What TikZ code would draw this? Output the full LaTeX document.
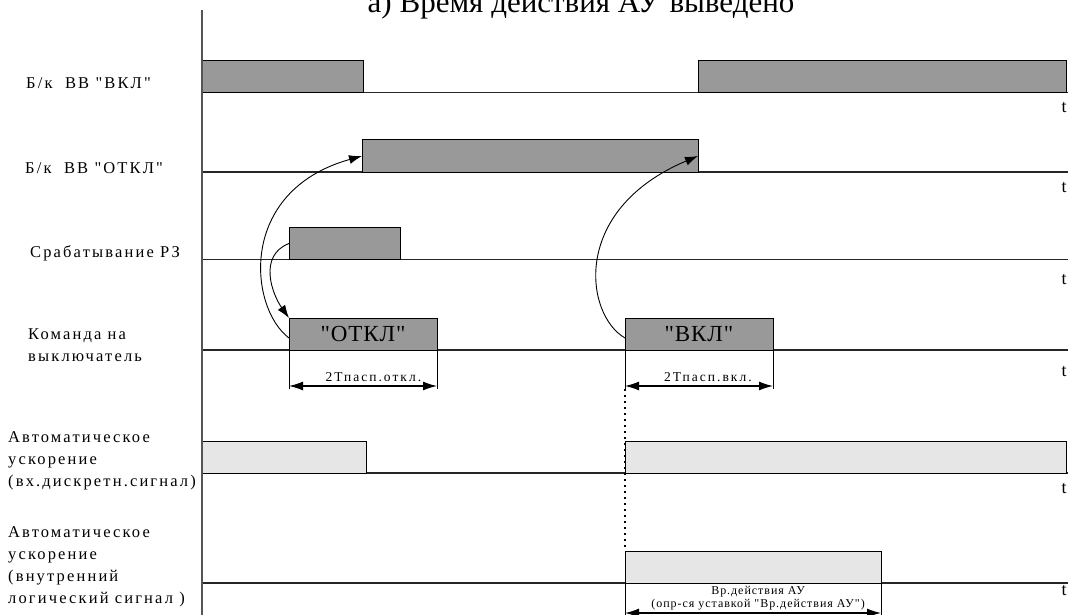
\documentclass[tikz,border=0pt]{standalone}
\usepackage{fontspec}
\setmainfont{Liberation Serif}
\newfontfamily\lblfont[LetterSpace=13]{Liberation Serif}
\newfontfamily\dimfont[LetterSpace=15]{Liberation Serif}
\newfontfamily\boxfont[LetterSpace=4]{Liberation Serif}
\newfontfamily\smallfont[LetterSpace=8]{Liberation Serif}
\usetikzlibrary{calc,arrows.meta}

\definecolor{pulsedark}{HTML}{999999}
\definecolor{pulselight}{HTML}{E6E6E6}
\definecolor{axisgray}{HTML}{555555}

\tikzset{
  darkpulse/.style={draw=black, line width=1pt, fill=pulsedark, inner sep=0pt,
    outer sep=0pt, minimum height=32pt, anchor=south west},
  lightpulse/.style={darkpulse, fill=pulselight},
  zeroline/.style={line width=1.2pt, black!85},
  axisline/.style={line width=2pt, axisgray},
  rowlabel/.style={font=\lblfont\fontsize{16.5}{22}\selectfont, align=left, inner sep=0pt},
  boxtext/.style={font=\boxfont\fontsize{23}{26}\selectfont},
  flow/.style={line width=0.9pt, -{Latex[length=13pt,width=9pt]}},
  tickline/.style={line width=0.9pt},
  dimarrow/.style={line width=1.3pt, {Latex[length=14pt,width=9pt]}-{Latex[length=14pt,width=9pt]}},
  dimtext/.style={font=\dimfont\fontsize{13.5}{15}\selectfont, inner sep=0pt},
  dimsmall/.style={font=\smallfont\fontsize{12}{13.5}\selectfont, align=center, inner sep=0pt},
  dotline/.style={line width=1.5pt, dash pattern=on 1.5pt off 4.5pt},
}

\begin{document}
\begin{tikzpicture}[x=1pt, y=-1pt]
  \useasboundingbox (0,0) rectangle (1068,615);

  % title
  \node[font=\fontsize{31}{34}\selectfont, anchor=base] (title) at (581,13)
    {а)\hspace{8pt}Время действия АУ\hspace{10pt}выведено};

  % zero lines of the signals
  \foreach \y in {92.5,172,259.5,350,473,583} {
    \draw[zeroline] (202,\y) -- (1068,\y);
  }

  % row labels
  \node[rowlabel, anchor=west] (lblOn) at (26,83) {Б/к\ \ ВВ "ВКЛ"};
  \node[rowlabel, anchor=west] (lblOff) at (25,168) {Б/к\ \ ВВ "ОТКЛ"};
  \node[rowlabel, anchor=west] (lblRz) at (30,253) {Срабатывание РЗ};
  \node[rowlabel, anchor=north west] (lblCmd) at (28,328) {Команда на\\выключатель};
  \node[rowlabel, anchor=north west] (lblAuIn) at (8,431)
    {Автоматическое\\ускорение\\(вх.дискретн.сигнал)};
  \node[rowlabel, anchor=north west] (lblAuLog) at (8,526)
    {Автоматическое\\ускорение\\(внутренний\\логический сигнал )};

  % pulses
  \node[darkpulse, minimum width=161pt] (onA) at (202,92.5) {};
  \node[darkpulse, minimum width=368pt] (onB) at (698,92.5) {};
  \node[darkpulse, minimum width=336pt] (offP) at (362,172) {};
  \node[darkpulse, minimum width=111pt] (rzP) at (289,259.5) {};
  \node[darkpulse, boxtext, minimum width=148pt] (cmdOff) at (289,350) {"ОТКЛ"};
  \node[darkpulse, boxtext, minimum width=148pt] (cmdOn) at (625,350) {"ВКЛ"};
  \node[lightpulse, minimum width=164pt] (auInA) at (202,473) {};
  \node[lightpulse, minimum width=441pt] (auInB) at (625,473) {};
  \node[lightpulse, minimum width=256pt] (auLog) at (625,583) {};

  % time axis
  \draw[axisline] (202,10) -- (202,615);
  \foreach \y [count=\i] in {108,188,280,372,489,591} {
    \node[font=\fontsize{18}{20}\selectfont, inner sep=0pt] (tm\i) at (1064,\y) {t};
  }

  % cause -> effect
  \draw[flow] ([yshift=-4pt]cmdOff.west) .. controls +(-40,-30) and +(-125,35) .. (offP.west);
  \draw[flow] (rzP.west) .. controls +(-31,12) and +(-17,-24) .. (cmdOff.north west);
  \draw[flow] ([yshift=-4pt]cmdOn.west) .. controls +(-40,-23) and +(-128,54) .. (offP.east);

  % durations
  \draw[tickline] (cmdOff.south west) -- ++(0,39);
  \draw[tickline] (cmdOff.south east) -- ++(0,39);
  \draw[dimarrow] ($(cmdOff.south west)+(0,36)$) -- ($(cmdOff.south east)+(0,36)$)
    node[dimtext, pos=0.57, above=4pt] (dimOff) {2Тпасп.откл.};
  \draw[tickline] (cmdOn.south west) -- ++(0,39);
  \draw[tickline] (cmdOn.south east) -- ++(0,39);
  \draw[dimarrow] ($(cmdOn.south west)+(0,36)$) -- ($(cmdOn.south east)+(0,36)$)
    node[dimtext, pos=0.56, above=4pt] (dimOn) {2Тпасп.вкл.};
  \draw[dotline] ($(cmdOn.south west)+(0,39)$) -- (auLog.north west);

  \draw[tickline] (auLog.south west) -- ++(0,32);
  \draw[tickline] (auLog.south east) -- ++(0,32);
  \draw[dimarrow] ($(auLog.south west)+(0,30)$) -- ($(auLog.south east)+(0,30)$)
    node[dimsmall, pos=0.52, above=2pt] (dimAu)
    {Вр.действия АУ\\(опр-ся уставкой "Вр.действия АУ")};
\end{tikzpicture}
\end{document}
